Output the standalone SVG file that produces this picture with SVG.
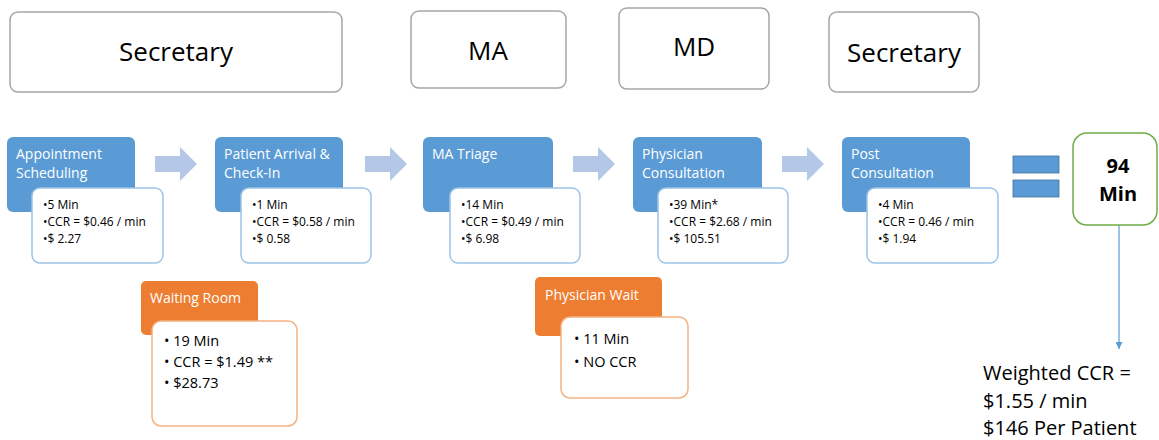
<svg xmlns="http://www.w3.org/2000/svg" width="1159" height="440" viewBox="0 0 1159 440">
<defs>
<style>
text{font-family:"Open Sans","Noto Sans","Liberation Sans",sans-serif;}
.role{fill:#fff;stroke:#a6a6a6;stroke-width:1.5;}
.roleT{font-size:26px;fill:#000;text-anchor:middle;}
.step{fill:#5b9bd5;}
.stepT{font-size:14px;fill:#fff;}
.det{fill:#fff;stroke:#9dc3e6;stroke-width:1.5;}
.detT{font-size:12px;fill:#000;}
.wait{fill:#ed7d31;}
.waitT{font-size:14px;fill:#fff;}
.wdet{fill:#fff;stroke:#f4b183;stroke-width:1.5;}
.wdetT{font-size:14.5px;fill:#000;}
.blk{fill:#b4c7e7;}
</style>
<marker id="ah" viewBox="0 0 10 10" refX="10" refY="5" markerWidth="7" markerHeight="7" markerUnits="userSpaceOnUse" orient="auto">
<path d="M0,0 L10,5 L0,10 z" fill="#5b9bd5"/>
</marker>
</defs>
<rect width="1159" height="440" fill="#fff"/>

<g id="role-secretary-1"><rect class="role" x="10" y="12" width="332" height="80" rx="8"/><text class="roleT" x="176" y="61">Secretary</text></g>
<g id="role-ma"><rect class="role" x="411" y="11" width="155" height="77" rx="8"/><text class="roleT" x="488" y="60">MA</text></g>
<g id="role-md"><rect class="role" x="619" y="8" width="150" height="81" rx="8"/><text class="roleT" x="694" y="56">MD</text></g>
<g id="role-secretary-2"><rect class="role" x="829" y="12" width="150" height="80" rx="8"/><text class="roleT" x="904" y="62">Secretary</text></g>

<g id="connectors">
<polygon class="blk" points="155,156 180,156 180,147 197,164 180,181 180,172 155,172"/>
<polygon class="blk" points="365,156 390,156 390,147 407,164 390,181 390,172 365,172"/>
<polygon class="blk" points="573,156 598,156 598,147 615,164 598,181 598,172 573,172"/>
<polygon class="blk" points="782,156 807,156 807,147 824,164 807,181 807,172 782,172"/>
<rect x="1013" y="156" width="46" height="17" fill="#5b9bd5" stroke="#41719c" stroke-width="0.8"/>
<rect x="1013" y="180" width="46" height="17" fill="#5b9bd5" stroke="#41719c" stroke-width="0.8"/>
<line x1="1119" y1="225" x2="1119" y2="349" stroke="#5b9bd5" stroke-width="1.2" marker-end="url(#ah)"/>
</g>

<g id="step-appointment">
<rect class="step" x="7" y="137" width="128" height="75" rx="6"/>
<text class="stepT" x="16" y="159">Appointment</text><text class="stepT" x="16" y="178">Scheduling</text>
<rect class="det" x="32" y="188" width="131" height="75" rx="8"/>
<text class="detT" x="43" y="209">•5 Min</text><text class="detT" x="43" y="226">•CCR = $0.46 / min</text><text class="detT" x="43" y="243">•$ 2.27</text>
</g>
<g id="step-arrival">
<rect class="step" x="215" y="137" width="128" height="75" rx="6"/>
<text class="stepT" x="224" y="159">Patient Arrival &amp;</text><text class="stepT" x="224" y="178">Check-In</text>
<rect class="det" x="241" y="188" width="130" height="75" rx="8"/>
<text class="detT" x="252" y="209">•1 Min</text><text class="detT" x="252" y="226">•CCR = $0.58 / min</text><text class="detT" x="252" y="243">•$ 0.58</text>
</g>
<g id="step-triage">
<rect class="step" x="423" y="137" width="130" height="75" rx="6"/>
<text class="stepT" x="432" y="159">MA Triage</text>
<rect class="det" x="450" y="188" width="130" height="75" rx="8"/>
<text class="detT" x="461" y="209">•14 Min</text><text class="detT" x="461" y="226">•CCR = $0.49 / min</text><text class="detT" x="461" y="243">•$ 6.98</text>
</g>
<g id="step-physician">
<rect class="step" x="633" y="137" width="129" height="75" rx="6"/>
<text class="stepT" x="642" y="159">Physician</text><text class="stepT" x="642" y="178">Consultation</text>
<rect class="det" x="658" y="188" width="130" height="75" rx="8"/>
<text class="detT" x="669" y="209">•39 Min*</text><text class="detT" x="669" y="226">•CCR = $2.68 / min</text><text class="detT" x="669" y="243">•$ 105.51</text>
</g>
<g id="step-post">
<rect class="step" x="842" y="137" width="128" height="75" rx="6"/>
<text class="stepT" x="851" y="159">Post</text><text class="stepT" x="851" y="178">Consultation</text>
<rect class="det" x="867" y="188" width="131" height="75" rx="8"/>
<text class="detT" x="878" y="209">•4 Min</text><text class="detT" x="878" y="226">•CCR = 0.46 / min</text><text class="detT" x="878" y="243">•$ 1.94</text>
</g>

<g id="total">
<rect x="1073" y="133" width="84" height="92" rx="14" fill="#fff" stroke="#70ad47" stroke-width="1.5"/>
<text x="1118" y="173" font-size="20" font-weight="bold" text-anchor="middle" fill="#000">94</text>
<text x="1118" y="201" font-size="20" font-weight="bold" text-anchor="middle" fill="#000">Min</text>
</g>

<g id="waiting-room">
<rect class="wait" x="141" y="281" width="117" height="54" rx="5"/>
<text class="waitT" x="150" y="303">Waiting Room</text>
<rect class="wdet" x="152" y="321" width="145" height="105" rx="9"/>
<text class="wdetT" x="164" y="346">• 19 Min</text><text class="wdetT" x="164" y="367">• CCR = $1.49 **</text><text class="wdetT" x="164" y="388">• $28.73</text>
</g>
<g id="physician-wait">
<rect class="wait" x="535" y="277" width="127" height="59" rx="5"/>
<text class="waitT" x="545" y="300">Physician Wait</text>
<rect class="wdet" x="561" y="317" width="127" height="81" rx="9"/>
<text class="wdetT" x="574" y="344">• 11 Min</text><text class="wdetT" x="574" y="367">• NO CCR</text>
</g>

<g id="weighted">
<text x="983" y="380" font-size="20" fill="#000">Weighted CCR =</text>
<text x="983" y="408" font-size="20" fill="#000">$1.55 / min</text>
<text x="983" y="435" font-size="20" fill="#000">$146 Per Patient</text>
</g>
</svg>
